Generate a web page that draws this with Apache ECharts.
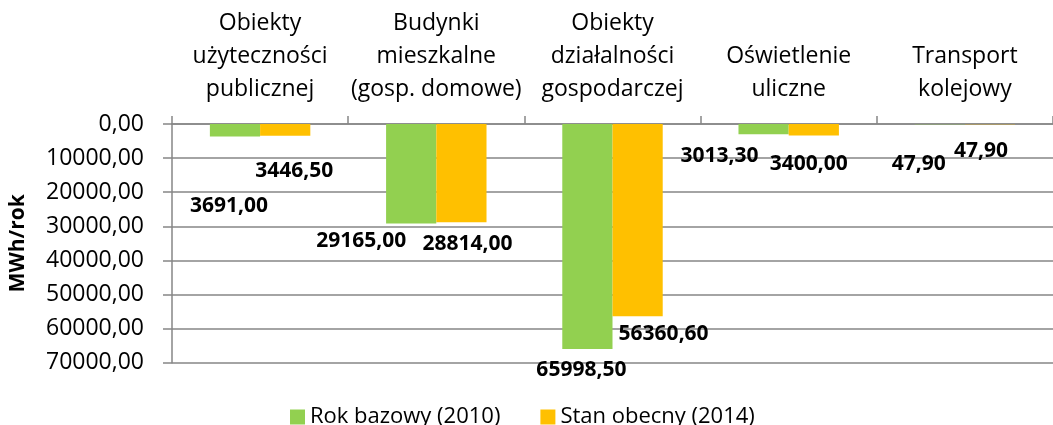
<!DOCTYPE html>
<html>
<head>
<meta charset="utf-8">
<script src="https://cdn.jsdelivr.net/npm/echarts@6/dist/echarts.min.js"></script>
<style>
    html, body { margin: 0; padding: 0; background: #fff; }
</style>
</head>
<body>
<div id="main" style="width: 1053px;height:425px;"></div>
<script>
// dane
var categories = ['Obiekty\nużyteczności\npublicznej', 'Budynki\nmieszkalne\n(gosp. domowe)', 'Obiekty\ndziałalności\ngospodarczej', 'Oświetlenie\nuliczne', 'Transport\nkolejowy'];
var rokBazowy = [3691.00, 29165.00, 65998.50, 3013.30, 47.90];
var stanObecny = [3446.50, 28814.00, 56360.60, 3400.00, 47.90];
var seriesNames = ['Rok bazowy (2010)', 'Stan obecny (2014)'];

// przesunięcia etykiet (ręcznie ustawione jak w oryginale)
var offsetsGreen = [[-6, 59], [-50, 8], [-6, 11], [-44, 12], [-21, 30]];
var offsetsYellow = [[9, 25], [6, 12], [26, 8], [-5, 18], [-9, 17]];

function fmt(v) {
    return v.toFixed(2).replace('.', ',');
}

function withLabels(values, offsets) {
    return values.map(function (v, i) {
        return { value: v, label: { offset: offsets[i] } };
    });
}

var font = '"Open Sans", sans-serif';
var gridColor = '#868686';

var myChart = echarts.init(document.getElementById('main'));

var labelStyle = {
    show: true,
    position: 'bottom',
    distance: 0,
    fontFamily: font,
    fontWeight: 'bold',
    fontSize: 21,
    lineHeight: 20,
    color: '#000',
    formatter: function (p) { return fmt(p.value); }
};

var option = {
    animation: false,
    grid: { left: 170, right: -14.5, top: 124, bottom: 62.3, containLabel: false },
    legend: {
        left: 285,
        top: 400,
        itemWidth: 15,
        itemHeight: 15,
        itemGap: 40,
        icon: 'rect',
        textStyle: { fontFamily: font, fontSize: 22, lineHeight: 24, color: '#000' },
        data: seriesNames
    },
    xAxis: {
        type: 'category',
        position: 'top',
        data: categories,
        axisLine: { show: true, lineStyle: { color: gridColor, width: 1.5 } },
        axisTick: { show: true, length: 8, lineStyle: { color: gridColor, width: 1.5 } },
        axisLabel: {
            interval: 0,
            margin: 18,
            fontFamily: font,
            fontSize: 23,
            lineHeight: 33,
            color: '#000'
        }
    },
    yAxis: {
        type: 'value',
        inverse: true,
        min: 0,
        max: 70000,
        interval: 10000,
        name: 'MWh/rok',
        nameLocation: 'middle',
        nameGap: 143,
        nameRotate: 90,
        nameTextStyle: { fontFamily: font, fontWeight: 'bold', fontSize: 21, color: '#000' },
        axisLine: { show: true, lineStyle: { color: gridColor, width: 1.5 } },
        axisTick: { show: true, length: 9, lineStyle: { color: gridColor, width: 1.5 } },
        splitLine: { show: true, lineStyle: { color: gridColor, width: 1.5 } },
        axisLabel: {
            margin: 28,
            fontFamily: font,
            fontSize: 23,
            color: '#000',
            formatter: function (v) { return fmt(v); }
        }
    },
    series: [
        {
            name: seriesNames[0],
            type: 'bar',
            barGap: '0%',
            barCategoryGap: '43%',
            itemStyle: { color: '#92D050' },
            label: labelStyle,
            data: withLabels(rokBazowy, offsetsGreen)
        },
        {
            name: seriesNames[1],
            type: 'bar',
            itemStyle: { color: '#FFC000' },
            label: labelStyle,
            data: withLabels(stanObecny, offsetsYellow)
        }
    ]
};

myChart.setOption(option);
</script>
</body>
</html>
